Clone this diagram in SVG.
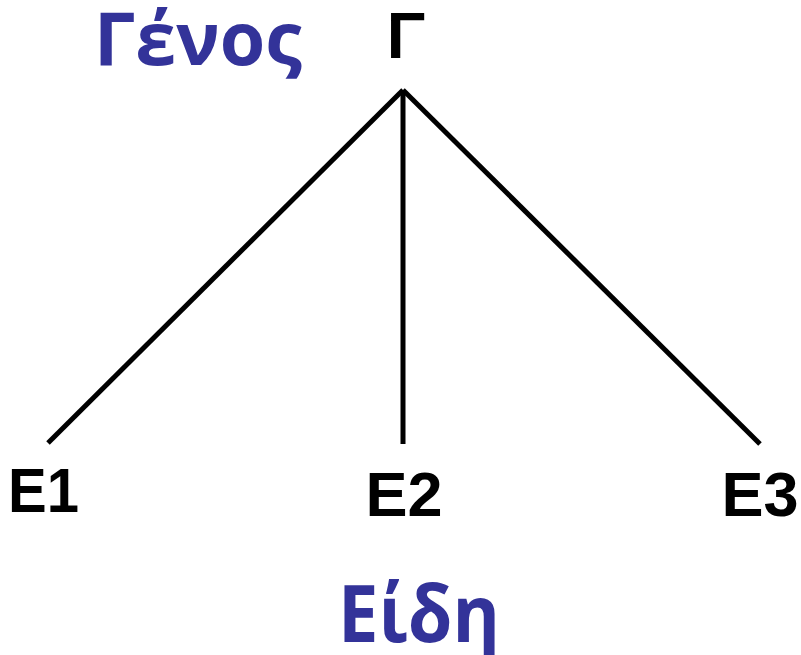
<svg xmlns="http://www.w3.org/2000/svg" width="801" height="655" viewBox="0 0 801 655">
<style>
.lbl{font-family:"Liberation Sans",Arial,sans-serif;font-weight:bold;fill:#000}
.cap{font-family:"Open Sans","Noto Sans",sans-serif;font-weight:bold;fill:#333399}
.edge{stroke:#000;stroke-width:5;fill:none}
</style>
<rect width="801" height="655" fill="#fff"/>
<g id="connectors">
<line class="edge" x1="403" y1="90" x2="48" y2="443"/>
<line class="edge" x1="403" y1="90" x2="403" y2="444"/>
<line class="edge" x1="403" y1="90" x2="760" y2="444"/>
</g>
<g id="genos-label"><text class="cap" x="94" y="65" font-size="73" textLength="208" lengthAdjust="spacingAndGlyphs">Γένος</text></g>
<g id="node-G"><text class="lbl" x="406" y="58" font-size="64" text-anchor="middle">Γ</text></g>
<g id="node-E1"><text class="lbl" x="8" y="512" font-size="63" textLength="71" lengthAdjust="spacingAndGlyphs">E1</text></g>
<g id="node-E2"><text class="lbl" x="404" y="516" font-size="63" text-anchor="middle">E2</text></g>
<g id="node-E3"><text class="lbl" x="760" y="516" font-size="63" text-anchor="middle">E3</text></g>
<g id="eidi-label"><text class="cap" x="338" y="642" font-size="78" textLength="162" lengthAdjust="spacingAndGlyphs">Είδη</text></g>
</svg>
